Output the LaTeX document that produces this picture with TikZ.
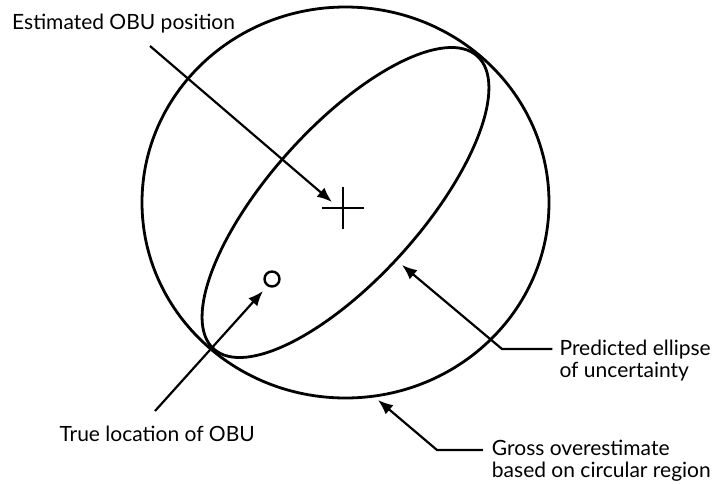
\documentclass[tikz,border=0pt]{standalone}
\usepackage{fontspec}
\setmainfont{Lato}
\usetikzlibrary{arrows.meta,calc}

\begin{document}
\begin{tikzpicture}
[   x=1pt, y=-1pt,
    label/.style={font=\fontsize{21}{22}\selectfont, inner sep=0, align=left},
    region/.style={line width=2.8pt},
    pointer/.style={line width=2.2pt, -{Latex[length=15pt, width=12pt]}}
]
    \useasboundingbox (0,0) rectangle (713,483);

    % circle and ellipse
    \coordinate (C) at (345.5,202.5);
    \draw[region] (C) ellipse [x radius=203.5, y radius=195.5];
    \draw[region, rotate around={48:(C)}] (C) ellipse [x radius=197, y radius=76];

    % estimated position and true location
    \coordinate (est) at (343,208);
    \draw[line width=2.5pt] ($(est)+(-21,0)$) -- ($(est)+(21,0)$)
        ($(est)+(0,-21)$) -- ($(est)+(0,21)$);
    \coordinate (obu) at (272,279);
    \draw[line width=2.4pt] (obu) circle [radius=7.5];

    % labels (multi-line: base is the last line)
    \node[label, anchor=base west] (estlabel) at (12,29) {Estimated OBU position};
    \node[label, anchor=base east] (truelabel) at (255,441) {True location of OBU};
    \node[label, anchor=base east] (predlabel) at (711,377) {Predicted ellipse\\of uncertainty};
    \node[label, anchor=base east] (grosslabel) at (711,477) {Gross overestimate\\based on circular region};

    % pointers
    \coordinate (estfrom) at (150,46);
    \coordinate (estto) at (332,202);
    \coordinate (truefrom) at (155,411);
    \coordinate (trueto) at (263,291);
    \coordinate (predbend) at (502,349);
    \coordinate (predfrom) at ($(predlabel.west |- predbend)+(-7,0)$);
    \coordinate (predto) at (402,265);
    \coordinate (grossbend) at (437,450);
    \coordinate (grossfrom) at ($(grosslabel.west |- grossbend)+(-9,0)$);
    \coordinate (grossto) at (378,400);
    \draw[pointer] (estfrom) -- (estto);
    \draw[pointer] (truefrom) -- (trueto);
    \draw[pointer] (predfrom) -- (predbend) -- (predto);
    \draw[pointer] (grossfrom) -- (grossbend) -- (grossto);
\end{tikzpicture}
\end{document}
